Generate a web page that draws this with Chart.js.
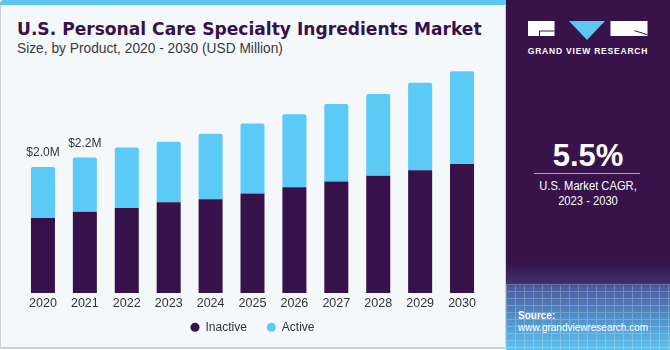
<!DOCTYPE html>
<html>
<head>
<meta charset="utf-8">
<script src="https://cdn.jsdelivr.net/npm/chart.js@4.4.0/dist/chart.umd.min.js"></script>
<style>
html, body { margin: 0; padding: 0; }
body { width: 670px; height: 350px; overflow: hidden; position: relative; background: #fff; font-family: "Liberation Sans", Arial, sans-serif; }
#panel { position: absolute; left: 0; top: 0; width: 504px; height: 347px; background: #f4f8fb; border-left: 1px solid #cdd1d4; border-right: 1px solid #cdd1d4; border-bottom: 2px solid #cdd1d4; border-top-left-radius: 4px; }
#strip { position: absolute; left: 0; top: 0; width: 506px; height: 5px; background: #5dc7f1; border-top-left-radius: 4px; }
#title { position: absolute; left: 17px; top: 21.2px; font: bold 17.1px/17.1px "DejaVu Sans", sans-serif; color: #37124a; white-space: nowrap; }
#subtitle { position: absolute; left: 17px; top: 41.7px; font: 13.75px/13.75px "Liberation Sans", Arial, sans-serif; color: #3a3a3a; white-space: nowrap; }
#chartBox { position: absolute; left: 0; top: 60px; width: 505px; height: 296px; }
#side { position: absolute; left: 506px; top: 0; width: 164px; height: 350px;
  background: linear-gradient(to bottom, #37134a 0, #37134a 262px, #3f2f6c 283px, #4b5a9a 286px, #539bd3 325px, #5cc4ef 350px); overflow: hidden; }
#grid { position: absolute; left: 0; top: 284px; width: 164px; height: 66px; opacity: 0.22;
  background-image: repeating-linear-gradient(to right, #fff 0, #fff 1px, transparent 1px, transparent 9px),
                    repeating-linear-gradient(to bottom, #fff 0, #fff 1px, transparent 1px, transparent 7px); }
#logo { position: absolute; left: 0; top: 0; }
#brand { position: absolute; left: 0; width: 164px; top: 47.1px; text-align: center; font: bold 8.5px/8.5px "Liberation Sans", Arial, sans-serif; letter-spacing: 0.8px; color: #fff; }
#cagr { position: absolute; left: 0; width: 164px; top: 139.8px; text-align: center; font: bold 31px/31px "Liberation Sans", Arial, sans-serif; color: #fff; }
#rule { position: absolute; left: 28px; top: 173px; width: 106px; height: 1px; background: #b3a7c0; }
.cap { position: absolute; left: 0; width: 164px; text-align: center; font: 13px/13px "Liberation Sans", Arial, sans-serif; color: #fff; transform: scaleX(0.86); transform-origin: 82px 0; }
#src1 { position: absolute; left: 12px; top: 310.8px; font: bold 10px/10px "Liberation Sans", Arial, sans-serif; color: #fff; }
#src2 { position: absolute; left: 12px; top: 323px; font: 10px/10px "Liberation Sans", Arial, sans-serif; color: #fff; }
</style>
</head>
<body>
<div id="panel"></div>
<div id="strip"></div>
<div id="title">U.S. Personal Care Specialty Ingredients Market</div>
<div id="subtitle">Size, by Product, 2020 - 2030 (USD Million)</div>
<div id="chartBox"><canvas id="chart"></canvas></div>

<div id="side">
  <div id="grid"></div>
  <svg id="logo" width="164" height="60" viewBox="0 0 164 60">
    <rect x="22" y="21" width="26.5" height="15" fill="#fff"/>
    <polyline points="48.5,31 33.5,31 33.5,36" fill="none" stroke="#37134a" stroke-width="1"/>
    <polygon points="63,21 99,21 81,40" fill="#5dc7f1"/>
    <rect x="104.5" y="21" width="37" height="15" fill="#fff"/>
    <line x1="128.5" y1="30.7" x2="141.5" y2="34.7" stroke="#37134a" stroke-width="1"/>
  </svg>
  <div id="brand">GRAND VIEW RESEARCH</div>
  <div id="cagr">5.5%</div>
  <div id="rule"></div>
  <div class="cap" style="top:179px">U.S. Market CAGR,</div>
  <div class="cap" style="top:193.7px">2023 - 2030</div>
  <div id="src1">Source:</div>
  <div id="src2">www.grandviewresearch.com</div>
</div>

<script>
// U.S. personal care specialty ingredients market, by product (USD Million)
const years = ['2020', '2021', '2022', '2023', '2024', '2025', '2026', '2027', '2028', '2029', '2030'];
const inactive = [1.19, 1.29, 1.35, 1.44, 1.49, 1.58, 1.68, 1.77, 1.86, 1.95, 2.05];
const active = [0.81, 0.86, 0.96, 0.96, 1.04, 1.11, 1.16, 1.23, 1.30, 1.39, 1.47];
const totalLabels = ['$2.0M', '$2.2M', '', '', '', '', '', '', '', '', ''];

// value labels above the first bars
const totalLabelPlugin = {
    id: 'totalLabels',
    afterDatasetsDraw(chart) {
        const meta = chart.getDatasetMeta(1);
        const ctx = chart.ctx;
        ctx.save();
        ctx.font = '12px "Liberation Sans", Arial, sans-serif';
        ctx.fillStyle = '#333';
        ctx.textAlign = 'center';
        ctx.textBaseline = 'alphabetic';
        meta.data.forEach((bar, i) => {
            if (totalLabels[i]) ctx.fillText(totalLabels[i], bar.x, bar.y - 11);
        });
        ctx.restore();
    }
};

// legend sits closer to the year labels than its item padding would allow
const legendNudge = {
    id: 'legendNudge',
    afterLayout(chart) {
        const shift = 12.7;
        chart.legend.top -= shift;
        chart.legend.bottom -= shift;
    }
};

const ctx = document.getElementById('chart').getContext('2d');
new Chart(ctx, {
    type: 'bar',
    data: {
        labels: years,
        datasets: [{
            label: 'Inactive',
            data: inactive,
            backgroundColor: '#37114a',
            borderWidth: 0,
            barPercentage: 0.573,
            categoryPercentage: 1
        }, {
            label: 'Active',
            data: active,
            backgroundColor: '#5ccaf6',
            borderWidth: 0,
            borderRadius: { topLeft: 2, topRight: 2, bottomLeft: 0, bottomRight: 0 },
            borderSkipped: false,
            barPercentage: 0.573,
            categoryPercentage: 1
        }]
    },
    options: {
        responsive: true,
        maintainAspectRatio: false,
        animation: false,
        layout: { padding: { left: 22, right: 22, top: 0, bottom: 0 } },
        scales: {
            x: {
                stacked: true,
                grid: { display: false, drawTicks: false },
                border: { display: false },
                ticks: {
                    padding: 3,
                    color: '#333',
                    font: { family: '"Liberation Sans", Arial, sans-serif', size: 12.5 }
                }
            },
            y: {
                stacked: true,
                display: false,
                min: 0,
                max: 3.7
            }
        },
        plugins: {
            legend: {
                position: 'bottom',
                labels: {
                    usePointStyle: true,
                    pointStyle: 'circle',
                    boxWidth: 9,
                    boxHeight: 6.4,
                    padding: 20,
                    color: '#333',
                    font: { family: '"Liberation Sans", Arial, sans-serif', size: 12 }
                }
            },
            tooltip: { enabled: false }
        }
    },
    plugins: [totalLabelPlugin, legendNudge]
});
</script>
</body>
</html>
